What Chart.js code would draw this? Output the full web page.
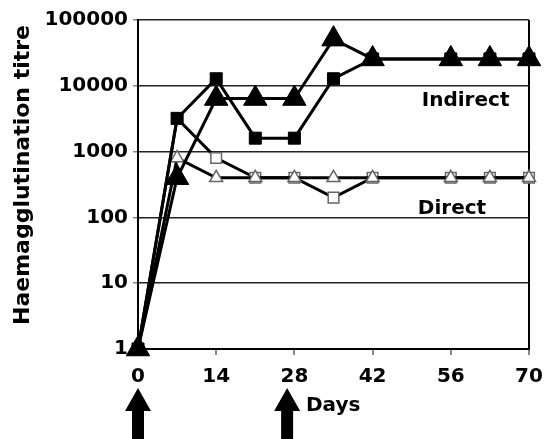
<!DOCTYPE html>
<html>
<head>
<meta charset="utf-8">
<script src="https://cdn.jsdelivr.net/npm/chart.js@4"></script>
<style>
  body { margin: 0; background: #fff; }
  canvas { display: block; }
</style>
</head>
<body>
<canvas id="titreChart" width="546" height="439"></canvas>
<script>
// days after first immunisation
const days = [0, 7, 14, 21, 28, 35, 42, 56, 63, 70];

// haemagglutination titres
const indirectTriangles = [1, 400, 6400, 6400, 6400, 51200, 25600, 25600, 25600, 25600];
const indirectSquares   = [1, 3200, 12800, 1600, 1600, 12800, 25600, 25600, 25600, 25600];
const directTriangles   = [1, 800, 400, 400, 400, 400, 400, 400, 400, 400];
const directSquares     = [1, 3200, 800, 400, 400, 200, 400, 400, 400, 400];

const yTicks = [1, 10, 100, 1000, 10000, 100000];
const xTicks = [0, 14, 28, 42, 56, 70];

// immunisation arrows (days) and in-plot labels [day, titre]
const arrowDays = [0, 26.7];
const seriesLabels = [
    { text: 'Indirect', day: 50.8, titre: 5900 },
    { text: 'Direct', day: 50.1, titre: 137 }
];

const FONT = "'DejaVu Sans', Verdana, sans-serif";

const toPoints = (vals) => vals.map((v, i) => ({ x: days[i], y: v }));

const extras = {
    id: 'extras',
    afterDraw(chart) {
        const ctx = chart.ctx;
        const xs = chart.scales.x;
        const ys = chart.scales.y;
        ctx.save();
        ctx.fillStyle = '#000';
        ctx.font = 'bold 20px ' + FONT;
        ctx.textBaseline = 'middle';
        ctx.textAlign = 'left';
        seriesLabels.forEach(l => {
            ctx.fillText(l.text, xs.getPixelForValue(l.day), ys.getPixelForValue(l.titre));
        });
        ctx.fillText('Days', 306, 406);

        // y axis title
        ctx.save();
        ctx.translate(23, 175);
        ctx.rotate(-Math.PI / 2);
        ctx.textAlign = 'center';
        ctx.font = 'bold 22px ' + FONT;
        ctx.fillText('Haemagglutination titre', 0, 0);
        ctx.restore();

        // arrows
        arrowDays.forEach(d => {
            const cx = xs.getPixelForValue(d);
            ctx.beginPath();
            ctx.moveTo(cx, 388);
            ctx.lineTo(cx + 13, 411);
            ctx.lineTo(cx + 6, 411);
            ctx.lineTo(cx + 6, 439);
            ctx.lineTo(cx - 6, 439);
            ctx.lineTo(cx - 6, 411);
            ctx.lineTo(cx - 13, 411);
            ctx.closePath();
            ctx.fill();
        });
        ctx.restore();
    }
};

const ctx = document.getElementById('titreChart').getContext('2d');
new Chart(ctx, {
    type: 'line',
    data: {
        datasets: [
            {
                data: toPoints(indirectTriangles),
                borderColor: '#000', borderWidth: 3,
                pointStyle: 'triangle', pointRadius: 13.5,
                pointBackgroundColor: '#000', pointBorderColor: '#000', pointBorderWidth: 1,
                clip: false
            },
            {
                data: toPoints(indirectSquares),
                borderColor: '#000', borderWidth: 3,
                pointStyle: 'rect', pointRadius: 8.5,
                pointBackgroundColor: '#000', pointBorderColor: '#000', pointBorderWidth: 1,
                clip: false
            },
            {
                data: toPoints(directTriangles),
                borderColor: '#000', borderWidth: 3,
                pointStyle: 'triangle', pointRadius: 7.5,
                pointBackgroundColor: '#fff', pointBorderColor: '#666', pointBorderWidth: 1.5,
                clip: false
            },
            {
                data: toPoints(directSquares),
                borderColor: '#000', borderWidth: 3,
                pointStyle: 'rect', pointRadius: 7.5,
                pointBackgroundColor: '#fff', pointBorderColor: '#666', pointBorderWidth: 1.5,
                clip: false
            }
        ]
    },
    options: {
        responsive: false,
        animation: false,
        layout: { padding: { top: 20, right: 17, left: 0, bottom: 0 } },
        plugins: { legend: { display: false }, tooltip: { enabled: false } },
        elements: { line: { tension: 0 } },
        scales: {
            x: {
                type: 'linear',
                min: 0, max: 70,
                afterBuildTicks: (scale) => { scale.ticks = xTicks.map(v => ({ value: v })); },
                afterFit: (scale) => {
                    scale.height = 90;
                    scale.paddingLeft = 0;
                    scale.paddingRight = 0;
                },
                ticks: {
                    color: '#000',
                    font: { family: FONT, size: 20, weight: 'bold' },
                    padding: 10,
                    maxRotation: 0
                },
                grid: {
                    color: (c) => c.tick && c.tick.value === 70 ? '#000' : 'rgba(0,0,0,0)',
                    lineWidth: 2,
                    tickColor: '#888',
                    tickLength: 6
                },
                border: { color: '#000', width: 2 }
            },
            y: {
                type: 'logarithmic',
                min: 1, max: 100000,
                afterBuildTicks: (scale) => { scale.ticks = yTicks.map(v => ({ value: v })); },
                afterFit: (scale) => { scale.width = 138; },
                ticks: {
                    color: '#000',
                    font: { family: FONT, size: 20, weight: 'bold' },
                    padding: 5,
                    callback: (v) => String(v)
                },
                grid: {
                    color: '#222',
                    lineWidth: 1.5,
                    tickColor: '#888',
                    tickLength: 5
                },
                border: { color: '#000', width: 2 }
            }
        }
    },
    plugins: [extras]
});
</script>
</body>
</html>
